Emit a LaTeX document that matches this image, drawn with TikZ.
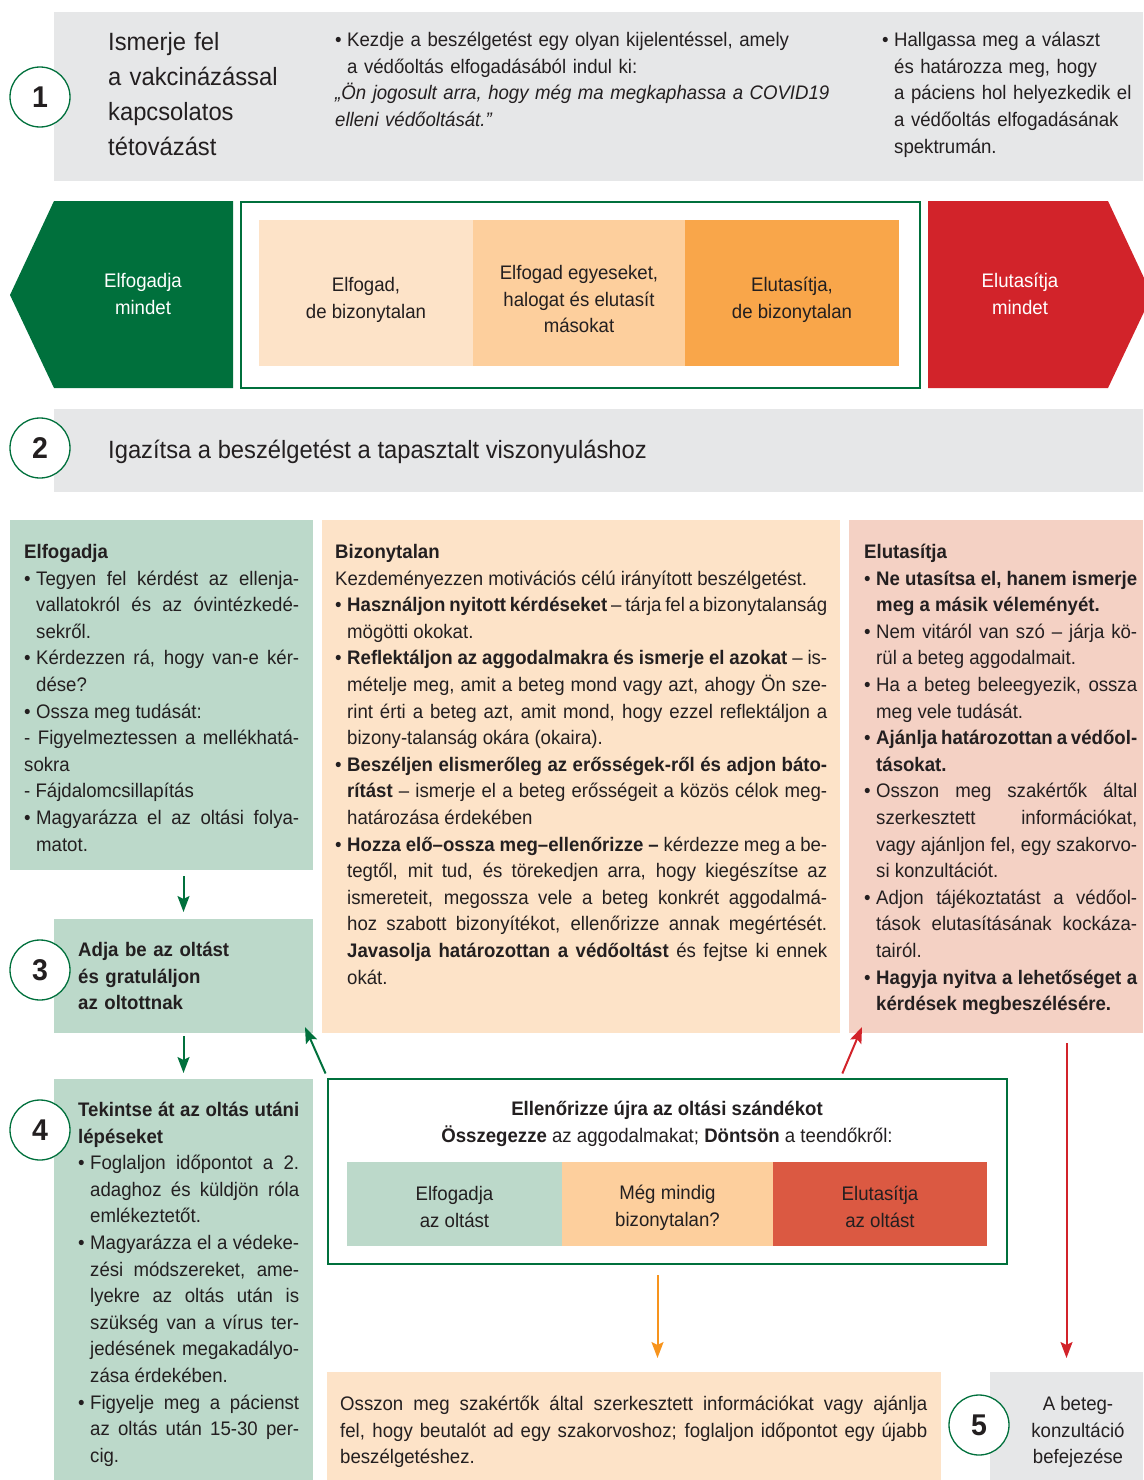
\documentclass[tikz,border=0pt]{standalone}
\usepackage{fontspec}
\setmainfont{Liberation Sans}[FakeStretch=0.95]
\usetikzlibrary{arrows.meta}
\definecolor{ink}{HTML}{231F20}
\definecolor{dgreen}{HTML}{00703C}
\definecolor{dred}{HTML}{D2232A}
\definecolor{lgray}{HTML}{E6E7E8}
\definecolor{mint}{HTML}{BCD9CA}
\definecolor{peachA}{HTML}{FDE3C8}
\definecolor{peachB}{HTML}{FDCF9D}
\definecolor{peachC}{HTML}{F9A64A}
\definecolor{rose}{HTML}{F4D1C4}
\definecolor{brick}{HTML}{DB5942}
\definecolor{tangerine}{HTML}{F7941D}
\newcommand{\txtsize}{\fontsize{19.6}{26.6}\selectfont}
\newcommand{\bigsize}{\fontsize{25}{35}\selectfont}
\newdimen\itmdp
\newcommand{\itm}[1]{\noindent\makebox[12pt][l]{•}\parbox[t]{\dimexpr\hsize-12pt\relax}{#1\par\global\itmdp=\prevdepth}\par\prevdepth=\itmdp}
\tolerance=10000
\hyphenpenalty=10000
\exhyphenpenalty=10000
\begin{document}
\begin{tikzpicture}[x=1pt, y=-1pt,
  box/.style={anchor=north west, inner sep=0pt, outer sep=0pt},
  txt/.style={anchor=north west, inner sep=0pt, align=justify, text=ink, font=\txtsize},
  lbl/.style={inner sep=0pt, align=center, text=ink, font=\txtsize},
  num/.style={circle, draw=dgreen, line width=1.3pt, fill=white, minimum size=60pt, inner sep=0pt, text=ink, font=\bfseries\fontsize{30}{30}\selectfont},
  garrow/.style={draw=dgreen, line width=2pt, -{Stealth[length=16pt, width=12pt, inset=3pt]}},
  rarrow/.style={garrow, draw=dred},
  oarrow/.style={garrow, draw=tangerine}]
  \useasboundingbox (0,0) rectangle (1143,1480);

  \node[box, fill=lgray, minimum width=1089pt, minimum height=169pt] (top) at (54,12) {};
  \node[num] (c1) at (40,97) {1};
  \node[txt, text width=220pt, align=left, font=\bigsize] (recog) at (108,32)
    {Ismerje fel\\a vakcinázással\\kapcsolatos\\tétovázást};
  \node[txt, text width=520pt, align=left] (start) at (335,32)
    {\itm{Kezdje a beszélgetést egy olyan kijelentéssel, amely\\a védőoltás elfogadásából indul ki:}
     \noindent\textit{„Ön jogosult arra, hogy még ma megkaphassa a COVID19\\elleni védőoltását.”}};
  \node[txt, text width=255pt, align=left] (listen) at (882,32)
    {\itm{Hallgassa meg a választ\\és határozza meg, hogy\\a páciens hol helyezkedik el\\a védőoltás elfogadásának\\spektrumán.}};

  \fill[dgreen] (54,201) -- (233,201) -- (233,388) -- (54,388) -- (10,295) -- cycle;
  \fill[dred] (928,201) -- (1108,201) -- (1152,295) -- (1108,388) -- (928,388) -- cycle;
  \node[lbl, text=white] (allyes) at (143,294) {Elfogadja\\mindet};
  \node[lbl, text=white] (allno) at (1020,294) {Elutasítja\\mindet};
  \node[box, draw=dgreen, line width=1.5pt, minimum width=679pt, minimum height=186pt] (spec) at (241,202) {};
  \node[box, fill=peachA, minimum width=214pt, minimum height=146pt] (s1) at (259,220) {};
  \node[box, fill=peachB, minimum width=212pt, minimum height=146pt] (s2) at (473,220) {};
  \node[box, fill=peachC, minimum width=214pt, minimum height=146pt] (s3) at (685,220) {};
  \node[lbl] (s1t) at ([yshift=-7pt]s1.center) {Elfogad,\\de bizonytalan};
  \node[lbl] (s2t) at ([yshift=-6pt]s2.center) {Elfogad egyeseket,\\halogat és elutasít\\másokat};
  \node[lbl] (s3t) at ([yshift=-7pt]s3.center) {Elutasítja,\\de bizonytalan};

  \node[box, fill=lgray, minimum width=1089pt, minimum height=83pt] (adapt) at (54,409) {};
  \node[num] (c2) at (40,448) {2};
  \node[anchor=base west, inner sep=0pt, text=ink, font=\bigsize] (adaptt) at (108,458)
    {Igazítsa a beszélgetést a tapasztalt viszonyuláshoz};

  \node[box, fill=mint, minimum width=303pt, minimum height=350pt] (acc) at (10,520) {};
  \node[box, fill=peachA, minimum width=518pt, minimum height=513pt] (bz) at (322,520) {};
  \node[box, fill=rose, minimum width=294pt, minimum height=513pt] (rej) at (849,520) {};

  \node[txt, text width=275pt] (acct) at (24,544)
    {\textbf{Elfogadja}\par
     \itm{Tegyen fel kérdést az ellenja-\linebreak vallatokról és az óvintézkedé-\linebreak sekről.}
     \itm{Kérdezzen rá, hogy van-e kér-\linebreak dése?}
     \itm{Ossza meg tudását:}
     \noindent - Figyelmeztessen a mellékhatá-\linebreak sokra\par
     \noindent - Fájdalomcsillapítás\par
     \itm{Magyarázza el az oltási folya-\linebreak matot.}};
  \node[txt, text width=492pt] (bzt) at (335,544)
    {\textbf{Bizonytalan}\par
     \noindent Kezdeményezzen motivációs célú irányított beszélgetést.\par
     \itm{\textbf{Használjon nyitott kérdéseket} – tárja fel a bizonytalanság\linebreak mögötti okokat.}
     \itm{\textbf{Reflektáljon az aggodalmakra és ismerje el azokat} – is-\linebreak mételje meg, amit a beteg mond vagy azt, ahogy Ön sze-\linebreak rint érti a beteg azt, amit mond, hogy ezzel reflektáljon a\linebreak bizony-talanság okára (okaira).}
     \itm{\textbf{Beszéljen elismerőleg az erősségek-ről és adjon báto-\linebreak rítást} – ismerje el a beteg erősségeit a közös célok meg-\linebreak határozása érdekében}
     \itm{\textbf{Hozza elő–ossza meg–ellenőrizze –} kérdezze meg a be-\linebreak tegtől, mit tud, és törekedjen arra, hogy kiegészítse az\linebreak ismereteit, megossza vele a beteg konkrét aggodalmá-\linebreak hoz szabott bizonyítékot, ellenőrizze annak megértését.\linebreak \textbf{Javasolja határozottan a védőoltást} és fejtse ki ennek\linebreak okát.}};
  \node[txt, text width=273pt] (rejt) at (864,544)
    {\textbf{Elutasítja}\par
     \itm{\textbf{Ne utasítsa el, hanem ismerje\linebreak meg a másik véleményét.}}
     \itm{Nem vitáról van szó – járja kö-\linebreak rül a beteg aggodalmait.}
     \itm{Ha a beteg beleegyezik, ossza\linebreak meg vele tudását.}
     \itm{\textbf{Ajánlja határozottan a védőol-\linebreak tásokat.}}
     \itm{Osszon meg szakértők által\linebreak szerkesztett információkat,\linebreak vagy ajánljon fel, egy szakorvo-\linebreak si konzultációt.}
     \itm{Adjon tájékoztatást a védőol-\linebreak tások elutasításának kockáza-\linebreak tairól.}
     \itm{\textbf{Hagyja nyitva a lehetőséget a\linebreak kérdések megbeszélésére.}}};

  \node[box, fill=mint, minimum width=259pt, minimum height=114pt] (b3) at (54,919) {};
  \node[num] (c3) at (40,970) {3};
  \node[txt, text width=220pt, align=left] (b3t) at (78,942)
    {\bfseries Adja be az oltást\\és gratuláljon\\az oltottnak};

  \node[box, fill=mint, minimum width=259pt, minimum height=401pt] (b4) at (54,1079) {};
  \node[num] (c4) at (40,1130) {4};
  \node[txt, text width=221pt] (b4t) at (78,1102)
    {\textbf{Tekintse át az oltás utáni\linebreak lépéseket}\par
     \itm{Foglaljon időpontot a 2.\linebreak adaghoz és küldjön róla\linebreak emlékeztetőt.}
     \itm{Magyarázza el a védeke-\linebreak zési módszereket, ame-\linebreak lyekre az oltás után is\linebreak szükség van a vírus ter-\linebreak jedésének megakadályo-\linebreak zása érdekében.}
     \itm{Figyelje meg a pácienst\linebreak az oltás után 15-30 per-\linebreak cig.}};

  \node[box, draw=dgreen, line width=1.5pt, fill=white, minimum width=679pt, minimum height=185pt] (chk) at (328,1079) {};
  \node[lbl, anchor=north] (chkt) at (667,1101)
    {\textbf{Ellenőrizze újra az oltási szándékot}\\\textbf{Összegezze} az aggodalmakat; \textbf{Döntsön} a teendőkről:};
  \node[box, fill=mint, minimum width=215pt, minimum height=84pt] (r1) at (347,1162) {};
  \node[box, fill=peachB, minimum width=211pt, minimum height=84pt] (r2) at (562,1162) {};
  \node[box, fill=brick, minimum width=214pt, minimum height=84pt] (r3) at (773,1162) {};
  \node[lbl] (r1t) at ([yshift=-3pt]r1.center) {Elfogadja\\az oltást};
  \node[lbl] (r2t) at ([yshift=-4pt]r2.center) {Még mindig\\bizonytalan?};
  \node[lbl] (r3t) at ([yshift=-3pt]r3.center) {Elutasítja\\az oltást};

  \node[box, fill=peachA, minimum width=614pt, minimum height=108pt] (pb) at (327,1372) {};
  \node[txt, text width=587pt] (pbt) at (340,1396)
    {Osszon meg szakértők által szerkesztett információkat vagy ajánlja\linebreak fel, hogy beutalót ad egy szakorvoshoz; foglaljon időpontot egy újabb\linebreak beszélgetéshez.};
  \node[box, fill=lgray, minimum width=153pt, minimum height=108pt] (g5) at (990,1372) {};
  \node[lbl] (g5t) at (1078,1432) {A beteg-\\konzultáció\\befejezése};
  \node[num] (c5) at (979,1425) {5};

  \draw[garrow, shorten <=6pt, shorten >=7pt] (acc.south -| b3.north) -- (b3.north);
  \draw[garrow, shorten <=3pt, shorten >=6pt] (b3.south) -- (b4.north);
  \draw[garrow, shorten <=6pt] (chk.north west) -- ([shift={(-8,-6)}]b3.south east);
  \draw[rarrow, shorten <=6pt] (chk.north -| bz.south east) -- ([shift={(13,-6)}]rej.south west);
  \draw[oarrow, shorten <=11pt, shorten >=14pt] ([xshift=-10pt]chk.south) -- ([xshift=-10pt]chk.south |- pb.north);
  \draw[rarrow, shorten <=10pt, shorten >=14pt] (rej.south -| g5.north) -- (g5.north);
\end{tikzpicture}
\end{document}
